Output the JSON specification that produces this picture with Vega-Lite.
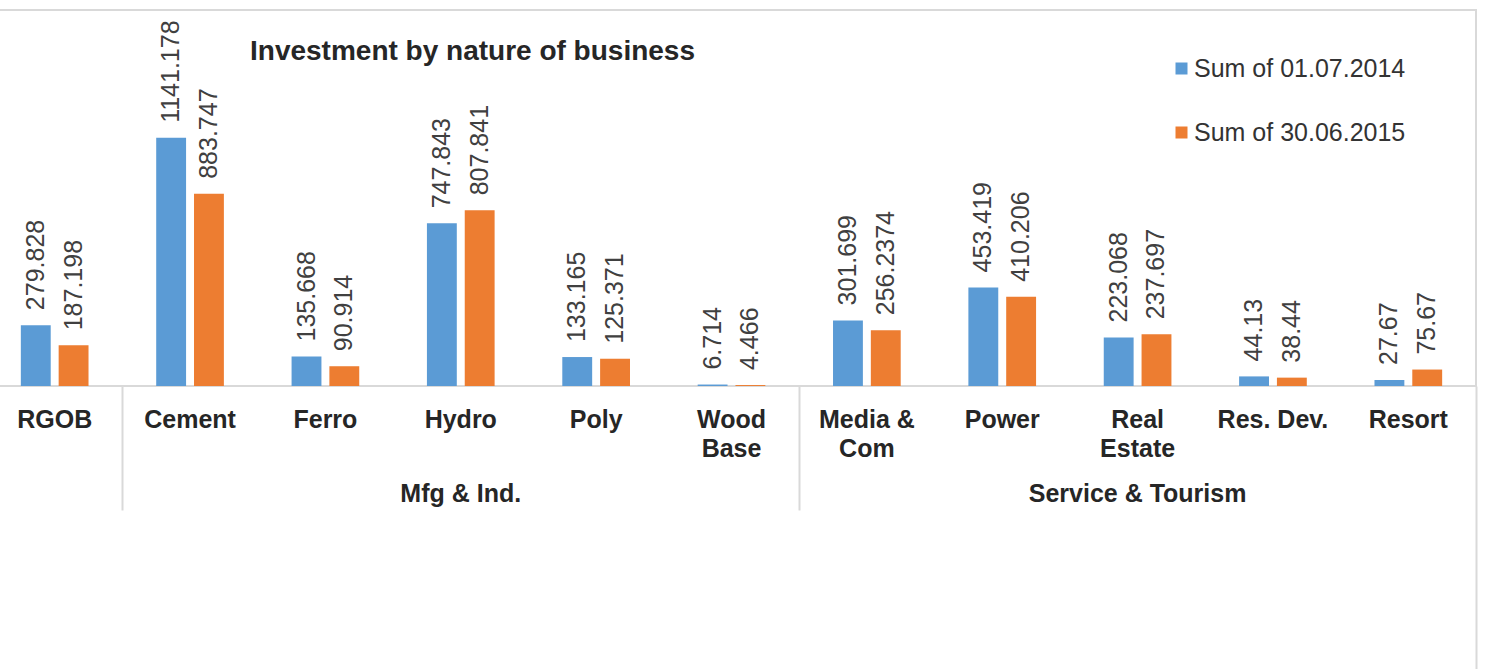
{
  "$schema": "https://vega.github.io/schema/vega-lite/v6.json",
  "background": "white",
  "autosize": {"type": "none"},
  "padding": {"left": -13, "top": 10, "right": 12, "bottom": 283},
  "width": 1489,
  "height": 376,
  "title": {
    "text": "Investment by nature of business",
    "anchor": "start",
    "frame": "group",
    "dx": 263,
    "offset": -78,
    "baseline": "alphabetic",
    "font": "Liberation Sans",
    "fontSize": 28,
    "fontWeight": "bold",
    "color": "#262626"
  },
  "data": {
    "values": [
      {"category": "RGOB", "group": "RGOB", "series": "Sum of 01.07.2014", "value": 279.828},
      {"category": "RGOB", "group": "RGOB", "series": "Sum of 30.06.2015", "value": 187.198},
      {"category": "Cement", "group": "Mfg & Ind.", "series": "Sum of 01.07.2014", "value": 1141.178},
      {"category": "Cement", "group": "Mfg & Ind.", "series": "Sum of 30.06.2015", "value": 883.747},
      {"category": "Ferro", "group": "Mfg & Ind.", "series": "Sum of 01.07.2014", "value": 135.668},
      {"category": "Ferro", "group": "Mfg & Ind.", "series": "Sum of 30.06.2015", "value": 90.914},
      {"category": "Hydro", "group": "Mfg & Ind.", "series": "Sum of 01.07.2014", "value": 747.843},
      {"category": "Hydro", "group": "Mfg & Ind.", "series": "Sum of 30.06.2015", "value": 807.841},
      {"category": "Poly", "group": "Mfg & Ind.", "series": "Sum of 01.07.2014", "value": 133.165},
      {"category": "Poly", "group": "Mfg & Ind.", "series": "Sum of 30.06.2015", "value": 125.371},
      {"category": "Wood Base", "group": "Mfg & Ind.", "series": "Sum of 01.07.2014", "value": 6.714},
      {"category": "Wood Base", "group": "Mfg & Ind.", "series": "Sum of 30.06.2015", "value": 4.466},
      {"category": "Media & Com", "group": "Service & Tourism", "series": "Sum of 01.07.2014", "value": 301.699},
      {"category": "Media & Com", "group": "Service & Tourism", "series": "Sum of 30.06.2015", "value": 256.2374},
      {"category": "Power", "group": "Service & Tourism", "series": "Sum of 01.07.2014", "value": 453.419},
      {"category": "Power", "group": "Service & Tourism", "series": "Sum of 30.06.2015", "value": 410.206},
      {"category": "Real Estate", "group": "Service & Tourism", "series": "Sum of 01.07.2014", "value": 223.068},
      {"category": "Real Estate", "group": "Service & Tourism", "series": "Sum of 30.06.2015", "value": 237.697},
      {"category": "Res. Dev.", "group": "Service & Tourism", "series": "Sum of 01.07.2014", "value": 44.13},
      {"category": "Res. Dev.", "group": "Service & Tourism", "series": "Sum of 30.06.2015", "value": 38.44},
      {"category": "Resort", "group": "Service & Tourism", "series": "Sum of 01.07.2014", "value": 27.67},
      {"category": "Resort", "group": "Service & Tourism", "series": "Sum of 30.06.2015", "value": 75.67}
    ]
  },
  "resolve": {"axis": {"x": "independent"}},
  "layer": [
    {
      "mark": {"type": "bar"},
      "encoding": {
        "x": {
          "field": "category",
          "type": "nominal",
          "sort": ["RGOB", "Cement", "Ferro", "Hydro", "Poly", "Wood Base", "Media & Com", "Power", "Real Estate", "Res. Dev.", "Resort"],
          "scale": {"paddingInner": 0.5, "paddingOuter": 0.25},
          "axis": {
            "orient": "bottom",
            "title": null,
            "ticks": false,
            "domain": false,
            "grid": false,
            "labelAngle": 0,
            "labelFont": "Liberation Sans",
            "labelFontSize": 25,
            "labelFontWeight": "bold",
            "labelColor": "#262626",
            "labelPadding": 21,
            "labelLineHeight": 29,
            "labelLimit": 0,
            "labelOverlap": false,
            "labelExpr": "datum.label == 'Wood Base' ? ['Wood', 'Base'] : datum.label == 'Media & Com' ? ['Media &', 'Com'] : datum.label == 'Real Estate' ? ['Real', 'Estate'] : datum.label"
          }
        },
        "xOffset": {"field": "series", "type": "nominal", "scale": {"paddingInner": 0.21, "paddingOuter": 0}},
        "y": {
          "field": "value",
          "type": "quantitative",
          "scale": {"domain": [0, 1729], "nice": false, "zero": true},
          "axis": {
            "title": null,
            "values": [0, 200, 400, 600, 800, 1000, 1200],
            "grid": true,
            "gridColor": "#d9d9d9",
            "gridWidth": 2,
            "labels": false,
            "ticks": false,
            "domain": false
          }
        },
        "color": {
          "field": "series",
          "type": "nominal",
          "scale": {"range": ["#5B9BD5", "#ED7D31"]},
          "legend": {
            "orient": "none",
            "legendX": 1182,
            "legendY": 46,
            "title": null,
            "padding": 0,
            "symbolType": "square",
            "symbolSize": 144,
            "symbolStrokeWidth": 0,
            "labelFont": "Liberation Sans",
            "labelFontSize": 25,
            "labelColor": "#333333",
            "labelOffset": 0,
            "rowPadding": 38,
            "labelLimit": 0
          }
        }
      }
    },
    {
      "transform": [{"filter": "datum.series == 'Sum of 01.07.2014'"}],
      "mark": {"type": "text", "angle": 270, "align": "left", "baseline": "middle", "dx": 15, "font": "Liberation Sans", "fontSize": 25, "color": "#404040"},
      "encoding": {
        "x": {
          "field": "category",
          "type": "nominal",
          "sort": ["RGOB", "Cement", "Ferro", "Hydro", "Poly", "Wood Base", "Media & Com", "Power", "Real Estate", "Res. Dev.", "Resort"],
          "axis": {
            "orient": "bottom",
            "title": null,
            "values": ["Hydro", "Real Estate"],
            "labelExpr": "datum.label == 'Hydro' ? 'Mfg & Ind.' : 'Service & Tourism'",
            "labelAngle": 0,
            "labelFont": "Liberation Sans",
            "labelFontSize": 25,
            "labelFontWeight": "bold",
            "labelColor": "#262626",
            "labelPadding": -29,
            "labelLimit": 0,
            "labelOverlap": false,
            "ticks": true,
            "tickSize": 124,
            "tickColor": "#d9d9d9",
            "tickWidth": 2,
            "bandPosition": -4.5,
            "domain": false,
            "grid": false
          }
        },
        "xOffset": {"field": "series", "type": "nominal"},
        "y": {"field": "value", "type": "quantitative", "axis": null},
        "text": {"field": "value", "type": "nominal"}
      }
    },
    {
      "transform": [{"filter": "datum.series == 'Sum of 30.06.2015'"}],
      "mark": {"type": "text", "angle": 270, "align": "left", "baseline": "middle", "dx": 15, "font": "Liberation Sans", "fontSize": 25, "color": "#404040"},
      "encoding": {
        "x": {
          "field": "category",
          "type": "nominal",
          "sort": ["RGOB", "Cement", "Ferro", "Hydro", "Poly", "Wood Base", "Media & Com", "Power", "Real Estate", "Res. Dev.", "Resort"],
          "axis": {
            "orient": "bottom",
            "title": null,
            "values": ["Resort"],
            "labels": false,
            "ticks": true,
            "tickSize": 283,
            "tickColor": "#d9d9d9",
            "tickWidth": 2,
            "bandPosition": 1.5,
            "domain": false,
            "grid": false
          }
        },
        "xOffset": {"field": "series", "type": "nominal"},
        "y": {"field": "value", "type": "quantitative", "axis": null},
        "text": {"field": "value", "type": "nominal"}
      }
    }
  ],
  "config": {
    "font": "Liberation Sans",
    "view": {"stroke": "#d9d9d9", "strokeWidth": 2}
  }
}
